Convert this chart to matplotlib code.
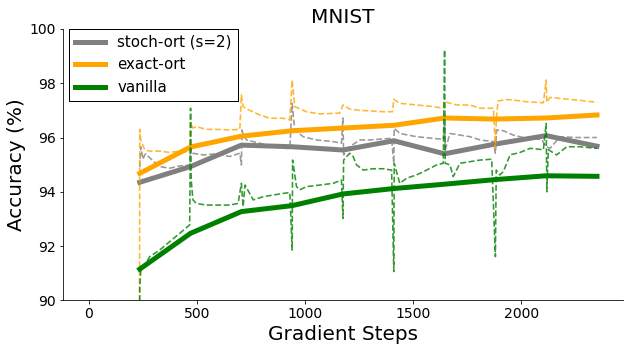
import matplotlib.pyplot as plt
import numpy as np

# epoch-end test accuracy (thick lines)
epoch_steps = [235, 470, 705, 940, 1175, 1410, 1645, 1880, 2115, 2350]
stoch_acc = [94.35, 94.93, 95.72, 95.66, 95.54, 95.88, 95.40, 95.76, 96.07, 95.68]
exact_acc = [94.68, 95.65, 96.05, 96.25, 96.35, 96.45, 96.72, 96.68, 96.72, 96.83]
vanilla_acc = [91.15, 92.47, 93.27, 93.49, 93.92, 94.12, 94.28, 94.45, 94.59, 94.57]

# running accuracy within each epoch (dashed lines)
stoch_steps = [235, 240, 250, 258, 263, 281, 327, 373, 420, 466,
               470, 481, 528, 590, 651, 698,
               705, 708, 713, 729, 790, 852, 914, 929,
               940, 952, 991, 1052, 1129, 1168,
               1175, 1178, 1206, 1253, 1300, 1361, 1400,
               1410, 1412, 1438, 1515, 1592, 1639,
               1645, 1648, 1670, 1716, 1763, 1809, 1871,
               1880, 1886, 1917, 1963, 2025, 2094,
               2115, 2133, 2179, 2256, 2350]
stoch_run = [94.9, 95.66, 95.2, 95.36, 95.4, 95.25, 94.93, 94.87, 94.95, 94.99,
             95.6, 95.42, 95.36, 95.4, 95.3, 95.42,
             94.99, 96.28, 96.1, 95.91, 95.79, 95.66, 95.6, 95.6,
             97.26, 96.28, 96.03, 95.91, 95.85, 95.79,
             96.72, 95.36, 95.66, 95.91, 95.91, 95.95, 95.97,
             95.05, 96.34, 96.15, 96.03, 95.97, 95.93,
             96.52, 95.54, 96.15, 96.09, 96.03, 95.91, 95.85,
             95.42, 96.28, 96.25, 96.09, 95.97, 95.93,
             95.66, 95.6, 96.03, 96.0, 96.0]

exact_steps = [233, 235, 240, 258, 281, 327, 373, 420, 466,
               470, 481, 497, 543, 590, 651, 698,
               705, 713, 744, 790, 837, 898, 929,
               940, 952, 1006, 1068, 1160,
               1175, 1206, 1253, 1300, 1361, 1404,
               1410, 1438, 1515, 1592, 1639,
               1645, 1700, 1762, 1809, 1871,
               1880, 1884, 1892, 1932, 1963, 2025, 2102,
               2115, 2118, 2133, 2179, 2256, 2350]
exact_run = [85.0, 96.3, 95.9, 95.55, 95.5, 95.5, 95.45, 95.5, 95.45,
             96.55, 96.35, 96.4, 96.3, 96.3, 96.28, 96.3,
             97.57, 97.14, 97.0, 96.83, 96.71, 96.71, 96.65,
             98.12, 97.14, 96.95, 96.87, 96.9,
             97.2, 97.05, 97.0, 96.98, 96.95, 96.95,
             97.41, 97.26, 97.2, 97.14, 97.08,
             97.32, 97.2, 97.2, 97.08, 97.08,
             95.6, 96.6, 97.35, 97.4, 97.38, 97.32, 97.28,
             98.12, 97.3, 97.48, 97.44, 97.38, 97.3]

vanilla_steps = [233, 235, 240, 258, 281, 327, 373, 420, 466,
                 470, 473, 481, 497, 543, 590, 651, 690,
                 705, 713, 722, 760, 806, 852, 898, 929,
                 940, 942, 960, 975, 1006, 1068, 1129, 1168,
                 1175, 1178, 1206, 1222, 1238, 1269, 1315, 1361, 1400,
                 1410, 1412, 1438, 1469, 1515, 1562, 1608, 1639,
                 1645, 1648, 1670, 1685, 1716, 1763, 1809, 1863,
                 1880, 1884, 1901, 1917, 1948, 1994, 2040, 2102,
                 2115, 2118, 2125, 2164, 2210, 2272, 2350]
vanilla_run = [85.0, 90.5, 91.12, 91.3, 91.61, 91.85, 92.16, 92.47, 92.78,
               97.08, 94.43, 93.7, 93.57, 93.51, 93.51, 93.51, 93.57,
               94.31, 93.45, 94.25, 93.7, 93.82, 93.88, 93.94, 93.97,
               91.85, 95.17, 94.19, 94.07, 94.19, 94.25, 94.31, 94.43,
               93.02, 95.17, 95.42, 95.3, 94.99, 94.8, 94.85, 94.85, 94.8,
               91.06, 95.05, 94.31, 94.5, 94.62, 94.8, 94.99, 95.05,
               99.23, 95.05, 94.99, 94.56, 95.05, 95.11, 95.17, 95.2,
               91.61, 94.8, 94.62, 94.75, 95.36, 95.45, 95.6, 95.55,
               96.52, 94.0, 95.55, 95.36, 95.66, 95.66, 95.6]

fig, ax = plt.subplots(figsize=(632 / 72, 351 / 72), dpi=72)
fig.subplots_adjust(left=0.0997, right=0.9853, bottom=0.1444, top=0.9174)

ax.plot(epoch_steps, stoch_acc, color='grey', lw=5, label='stoch-ort (s=2)')
ax.plot(stoch_steps, stoch_run, color='grey', lw=1.6, ls='--', alpha=0.8)
ax.plot(epoch_steps, exact_acc, color='orange', lw=5, label='exact-ort')
ax.plot(exact_steps, exact_run, color='orange', lw=1.6, ls='--', alpha=0.8)
ax.plot(epoch_steps, vanilla_acc, color='green', lw=5, label='vanilla')
ax.plot(vanilla_steps, vanilla_run, color='green', lw=1.6, ls='--', alpha=0.8)

ax.set_xlim(-120, 2469)
ax.set_ylim(90, 100)
ax.set_title('MNIST', fontsize=20)
ax.set_xlabel('Gradient Steps', fontsize=20)
ax.set_ylabel('Accuracy (%)', fontsize=20)
ax.tick_params(labelsize=14)
ax.spines['top'].set_visible(False)
ax.spines['right'].set_visible(False)

leg = ax.legend(loc='upper left', bbox_to_anchor=(0.0113, 1.0), fontsize=15,
                fancybox=False, framealpha=1, borderaxespad=0, handlelength=2)
leg.get_frame().set_edgecolor('black')

plt.savefig('out.png', dpi=72)
